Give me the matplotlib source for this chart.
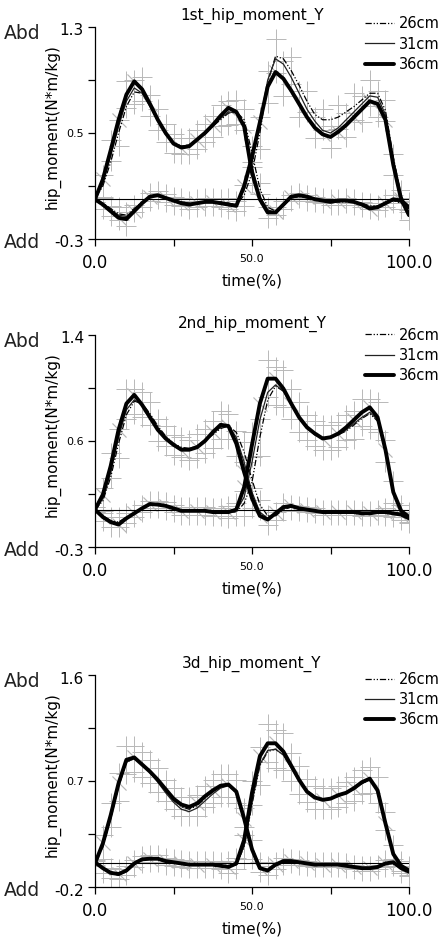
import numpy as np
import matplotlib
matplotlib.use('Agg')
import matplotlib.pyplot as plt
import matplotlib.transforms as mtransforms
from matplotlib.lines import Line2D

plt.rcParams['font.family'] = ['DejaVu Sans']

# time axis (% of cycle), 2.5 % steps; SD read every 5 %
time_pct = np.linspace(0, 100, 41)
sd_time = time_pct[::2]

# ---- panel 1 : 1st_hip_moment_Y ----
p1_a26 = [0.0,0.10,0.28,0.50,0.70,0.81,0.80,0.71,0.60,0.50,0.43,0.40,0.41,0.45,0.49,0.55,0.60,0.65,0.66,0.60,0.35,0.08,-0.06,-0.09,-0.05,0.01,0.02,0.01,0.0,-0.01,-0.02,-0.02,-0.02,-0.02,-0.03,-0.05,-0.05,-0.03,-0.01,-0.03,-0.08]
p1_a31 = [0.0,0.12,0.33,0.55,0.74,0.84,0.80,0.70,0.59,0.49,0.42,0.40,0.41,0.45,0.50,0.56,0.61,0.66,0.65,0.57,0.25,0.02,-0.08,-0.10,-0.05,0.01,0.02,0.02,0.0,-0.01,-0.02,-0.02,-0.01,-0.02,-0.03,-0.06,-0.06,-0.03,-0.01,-0.02,-0.07]
p1_a36 = [0.0,0.15,0.37,0.60,0.79,0.89,0.83,0.72,0.60,0.50,0.42,0.39,0.40,0.45,0.50,0.56,0.63,0.69,0.66,0.55,0.20,0.0,-0.10,-0.10,-0.04,0.02,0.03,0.02,0.0,-0.01,-0.02,-0.01,-0.01,-0.02,-0.04,-0.07,-0.06,-0.03,0.0,-0.01,-0.06]
p1_b26 = [0.0,-0.03,-0.07,-0.11,-0.12,-0.07,-0.02,0.02,0.03,0.01,-0.01,-0.02,-0.03,-0.03,-0.02,-0.02,-0.02,-0.03,-0.04,0.03,0.20,0.50,0.88,1.08,1.06,0.97,0.86,0.74,0.64,0.60,0.60,0.62,0.66,0.70,0.75,0.80,0.80,0.67,0.32,0.03,-0.10]
p1_b31 = [0.0,-0.03,-0.08,-0.12,-0.13,-0.08,-0.02,0.02,0.03,0.01,-0.01,-0.02,-0.03,-0.03,-0.02,-0.02,-0.02,-0.03,-0.04,0.07,0.28,0.58,0.90,1.06,1.02,0.92,0.80,0.68,0.59,0.52,0.50,0.54,0.60,0.66,0.72,0.78,0.77,0.64,0.30,0.02,-0.10]
p1_b36 = [0.0,-0.04,-0.09,-0.14,-0.15,-0.09,-0.03,0.02,0.03,0.01,-0.01,-0.03,-0.04,-0.03,-0.02,-0.02,-0.03,-0.04,-0.05,0.10,0.32,0.58,0.85,0.96,0.91,0.82,0.72,0.62,0.54,0.49,0.47,0.51,0.56,0.62,0.68,0.74,0.72,0.60,0.26,0.0,-0.12]
p1_sd_a = [0.02,0.08,0.10,0.09,0.08,0.07,0.06,0.07,0.08,0.09,0.08,0.04,0.03,0.02,0.02,0.02,0.02,0.02,0.02,0.03,0.04]
p1_sd_b = [0.02,0.04,0.05,0.03,0.03,0.03,0.03,0.03,0.03,0.04,0.08,0.12,0.13,0.10,0.08,0.08,0.09,0.10,0.10,0.08,0.04]

# ---- panel 2 : 2nd_hip_moment_Y ----
p2_a26 = [0.0,0.07,0.26,0.53,0.76,0.87,0.85,0.77,0.67,0.59,0.53,0.50,0.49,0.51,0.55,0.60,0.65,0.67,0.62,0.46,0.24,0.04,-0.05,-0.05,0.0,0.02,0.01,0.0,-0.01,-0.02,-0.02,-0.02,-0.02,-0.02,-0.03,-0.03,-0.02,-0.02,-0.03,-0.04,-0.06]
p2_a31 = [0.0,0.09,0.30,0.58,0.80,0.88,0.84,0.75,0.65,0.58,0.52,0.49,0.49,0.51,0.56,0.61,0.66,0.67,0.58,0.38,0.14,-0.02,-0.07,-0.04,0.01,0.02,0.01,0.0,-0.01,-0.02,-0.02,-0.02,-0.02,-0.02,-0.03,-0.03,-0.02,-0.02,-0.03,-0.04,-0.06]
p2_a36 = [0.0,0.12,0.35,0.64,0.85,0.92,0.84,0.74,0.64,0.57,0.52,0.48,0.48,0.50,0.55,0.62,0.68,0.67,0.53,0.30,0.09,-0.05,-0.08,-0.03,0.02,0.03,0.01,0.0,-0.01,-0.02,-0.02,-0.02,-0.02,-0.02,-0.03,-0.03,-0.02,-0.02,-0.03,-0.04,-0.07]
p2_b26 = [0.0,-0.05,-0.09,-0.10,-0.06,-0.03,0.01,0.04,0.04,0.03,0.01,-0.01,-0.01,-0.01,-0.01,-0.02,-0.02,-0.02,-0.02,0.05,0.22,0.58,0.88,0.99,0.95,0.85,0.74,0.66,0.60,0.58,0.58,0.60,0.63,0.68,0.73,0.77,0.71,0.47,0.15,0.0,-0.05]
p2_b31 = [0.0,-0.05,-0.09,-0.11,-0.07,-0.03,0.01,0.04,0.04,0.03,0.01,-0.01,-0.01,-0.01,-0.01,-0.02,-0.02,-0.02,-0.01,0.10,0.38,0.72,0.94,1.00,0.95,0.84,0.73,0.65,0.60,0.57,0.58,0.60,0.64,0.69,0.74,0.78,0.72,0.47,0.14,-0.01,-0.06]
p2_b36 = [0.0,-0.06,-0.10,-0.12,-0.07,-0.03,0.01,0.045,0.04,0.03,0.01,-0.01,-0.01,-0.01,-0.01,-0.02,-0.02,-0.02,0.0,0.18,0.52,0.85,1.05,1.05,0.97,0.85,0.74,0.66,0.61,0.57,0.58,0.61,0.66,0.72,0.78,0.82,0.74,0.48,0.14,-0.01,-0.06]
p2_sd_a = [0.02,0.10,0.12,0.10,0.09,0.08,0.08,0.10,0.11,0.10,0.08,0.04,0.03,0.02,0.02,0.02,0.02,0.02,0.02,0.03,0.04]
p2_sd_b = [0.02,0.04,0.04,0.03,0.03,0.03,0.03,0.03,0.03,0.05,0.10,0.15,0.15,0.12,0.10,0.10,0.10,0.11,0.12,0.09,0.04]

# ---- panel 3 : 3d_hip_moment_Y ----
p3_a26 = [0.0,0.14,0.38,0.65,0.86,0.89,0.85,0.78,0.70,0.62,0.54,0.48,0.46,0.49,0.55,0.61,0.65,0.66,0.60,0.39,0.13,-0.03,-0.06,-0.02,0.01,0.02,0.01,0.0,-0.01,-0.01,-0.01,-0.01,-0.02,-0.03,-0.04,-0.04,-0.03,0.0,0.0,-0.04,-0.07]
p3_a31 = [0.0,0.15,0.39,0.66,0.86,0.89,0.84,0.77,0.69,0.60,0.52,0.46,0.44,0.47,0.53,0.59,0.64,0.66,0.61,0.40,0.14,-0.03,-0.06,-0.02,0.01,0.02,0.01,0.0,-0.01,-0.01,-0.01,-0.01,-0.02,-0.03,-0.04,-0.04,-0.03,0.0,0.0,-0.04,-0.07]
p3_a36 = [0.0,0.17,0.41,0.68,0.88,0.90,0.84,0.78,0.71,0.63,0.55,0.50,0.48,0.51,0.57,0.62,0.66,0.67,0.61,0.38,0.12,-0.04,-0.06,-0.01,0.02,0.02,0.01,0.0,-0.01,-0.01,-0.01,-0.01,-0.02,-0.03,-0.04,-0.04,-0.03,0.0,0.01,-0.04,-0.07]
p3_b26 = [0.01,-0.04,-0.07,-0.09,-0.06,0.0,0.03,0.04,0.04,0.02,0.01,0.0,-0.01,-0.01,-0.01,-0.01,-0.02,-0.03,-0.01,0.14,0.50,0.83,0.95,0.97,0.92,0.82,0.71,0.62,0.57,0.55,0.55,0.57,0.60,0.63,0.68,0.71,0.62,0.36,0.09,-0.02,-0.06]
p3_b31 = [0.01,-0.04,-0.08,-0.10,-0.07,-0.01,0.03,0.04,0.04,0.02,0.01,0.0,-0.01,-0.01,-0.01,-0.01,-0.02,-0.03,-0.01,0.15,0.52,0.84,0.96,0.97,0.92,0.81,0.70,0.61,0.56,0.54,0.55,0.57,0.60,0.63,0.68,0.71,0.62,0.36,0.09,-0.02,-0.06]
p3_b36 = [0.01,-0.04,-0.08,-0.09,-0.06,0.0,0.035,0.04,0.04,0.02,0.01,0.0,-0.01,-0.01,-0.01,-0.01,-0.02,-0.03,0.0,0.20,0.60,0.91,1.02,1.02,0.95,0.83,0.71,0.61,0.56,0.54,0.55,0.58,0.60,0.64,0.69,0.72,0.62,0.34,0.08,-0.02,-0.06]
p3_sd_a = [0.02,0.10,0.12,0.11,0.10,0.09,0.08,0.09,0.10,0.10,0.08,0.04,0.03,0.02,0.02,0.02,0.02,0.02,0.02,0.03,0.04]
p3_sd_b = [0.02,0.04,0.04,0.03,0.03,0.03,0.03,0.03,0.03,0.05,0.10,0.16,0.16,0.12,0.10,0.09,0.09,0.10,0.11,0.08,0.04]

titles = ['1st_hip_moment_Y', '2nd_hip_moment_Y', '3d_hip_moment_Y']
y_limits = [(-0.3, 1.3), (-0.3, 1.4), (-0.2, 1.6)]
y_labels = [['-0.3', '', '0.5', '', '1.3'],
            ['-0.3', '', '0.6', '', '1.4'],
            ['-0.2', '', '0.7', '', '1.6']]
legend_labels = ['26cm', '31cm', '36cm']

GRAY = '#b8b8b8'
style_26 = dict(color='black', lw=0.9, ls=(0, (5, 1.5, 1, 1.5, 1, 1.5)))
style_31 = dict(color='#222222', lw=0.9, ls='-', solid_joinstyle='round')
style_36 = dict(color='black', lw=2.8, ls='-', solid_joinstyle='round', solid_capstyle='round')


def sd_marks(ax, t, yc, sd):
    ax.errorbar(t, yc, yerr=sd, fmt='none', ecolor=GRAY, elinewidth=0.7, zorder=1)
    ax.plot(t, yc + sd, '+', color=GRAY, ms=14, mew=0.7, zorder=1)
    ax.plot(t, yc - sd, '+', color=GRAY, ms=14, mew=0.7, zorder=1)


def draw_panel(ax, title, ylim, ylabels, a_curves, b_curves, sd_a, sd_b, leg_y):
    # gray SD marks under the curves (36cm on even steps, 26cm on odd steps)
    for curves, sd in ((a_curves, sd_a), (b_curves, sd_b)):
        sd = np.asarray(sd)
        sd_marks(ax, sd_time, np.asarray(curves[2])[::2], sd)
        sd_marks(ax, time_pct[1::2], np.asarray(curves[0])[1::2], sd[1:])
        ax.plot(time_pct[1::2], np.asarray(curves[2])[1::2], ls='none', marker=(2, 2, 45),
                color=GRAY, ms=14, mew=0.6, zorder=1)

    ax.axhline(0, color='black', lw=0.8, zorder=2)
    for curves in (a_curves, b_curves):
        ax.plot(time_pct, curves[0], zorder=3, **style_26)
        ax.plot(time_pct, curves[1], zorder=3, **style_31)
        ax.plot(time_pct, curves[2], zorder=4, **style_36)

    ax.set_xlim(0, 100)
    ax.set_ylim(*ylim)
    for s in ('top', 'right'):
        ax.spines[s].set_visible(False)
    ax.spines['left'].set_linewidth(0.9)
    ax.spines['bottom'].set_linewidth(0.9)

    ax.set_xticks([0, 25, 50, 75, 100])
    ax.set_xticklabels(['0.0', '', '50.0', '', '100.0'])
    ax.set_yticks(np.linspace(ylim[0], ylim[1], 5))
    # only the middle label is a normal tick label; the end labels sit a bit lower
    ax.set_yticklabels(['', '', ylabels[2], '', ''])
    ax.tick_params(direction='out', length=5, width=0.9, colors='black')
    ax.tick_params(axis='x', pad=6)
    ax.tick_params(axis='y', pad=3, labelsize=8)
    for i, lab in enumerate(ax.get_xticklabels()):
        lab.set_fontsize(8 if i == 2 else 12)

    trans = mtransforms.blended_transform_factory(ax.transAxes, ax.transData)
    shifted = mtransforms.offset_copy(trans, fig=ax.figure, x=-11, y=-4, units='dots')
    ax.text(0, ylim[1], ylabels[4], transform=shifted, fontsize=11, ha='right', va='center')
    ax.text(0, ylim[0], ylabels[0], transform=shifted, fontsize=11, ha='right', va='center')

    ax.text(-0.29, 1.015, 'Abd', transform=ax.transAxes, fontsize=13.5,
            ha='left', va='top', color='#222222')
    ax.text(-0.29, -0.015, 'Add', transform=ax.transAxes, fontsize=13.5,
            ha='left', va='center', color='#222222')

    ax.set_title(title, fontsize=11, pad=5)
    ax.set_xlabel('time(%)', fontsize=11, labelpad=1)
    ax.set_ylabel('hip_moment(N*m/kg)', fontsize=11)
    ax.yaxis.set_label_coords(-0.11, 0.53)

    handles = [Line2D([], [], **style_26), Line2D([], [], **style_31),
               Line2D([], [], **style_36)]
    ax.legend(handles, legend_labels, loc='upper left', bbox_to_anchor=(0.86, leg_y),
              frameon=False, fontsize=10.5, handlelength=2.0, handletextpad=0.35,
              labelspacing=0.35, borderpad=0, borderaxespad=0)


fig = plt.figure(figsize=(4.47, 9.44), dpi=100)
W, H = 447, 944
boxes = [(95, 27, 409, 239), (95, 335, 409, 547), (95, 675, 409, 887)]
legend_y = [1.05, 1.035, 1.015]
panel_a = [(p1_a26, p1_a31, p1_a36), (p2_a26, p2_a31, p2_a36), (p3_a26, p3_a31, p3_a36)]
panel_b = [(p1_b26, p1_b31, p1_b36), (p2_b26, p2_b31, p2_b36), (p3_b26, p3_b31, p3_b36)]
panel_sd = [(p1_sd_a, p1_sd_b), (p2_sd_a, p2_sd_b), (p3_sd_a, p3_sd_b)]

for k in range(3):
    x0, y0, x1, y1 = boxes[k]
    ax = fig.add_axes([x0 / W, 1 - y1 / H, (x1 - x0) / W, (y1 - y0) / H])
    draw_panel(ax, titles[k], y_limits[k], y_labels[k], panel_a[k], panel_b[k],
               panel_sd[k][0], panel_sd[k][1], legend_y[k])

fig.savefig('out.png', dpi=100)
